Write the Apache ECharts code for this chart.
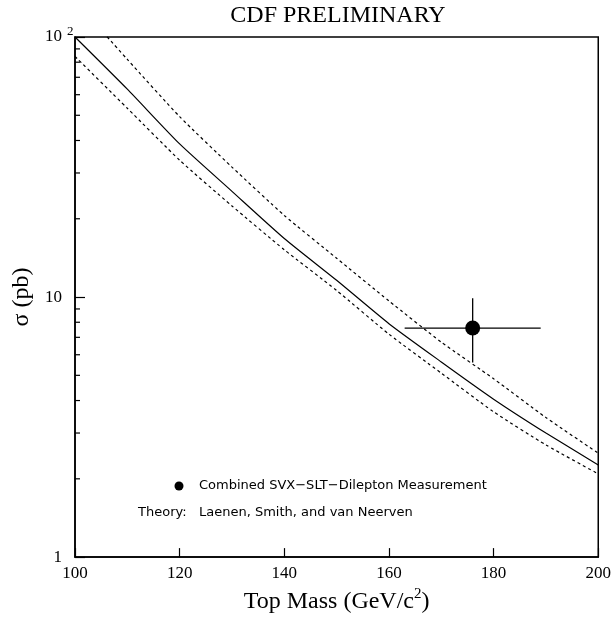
<!DOCTYPE html>
<html>
<head>
<meta charset="utf-8">
<script src="https://cdn.jsdelivr.net/npm/echarts@6/dist/echarts.min.js"></script>
<style>
html, body { margin: 0; padding: 0; background: #ffffff; }
#chart { width: 614px; height: 621px; }
</style>
</head>
<body>
<div id="chart"></div>
<script>
// Top-quark mass grid (GeV/c^2) for the theory curves
const massGrid = [100, 110, 120, 130, 140, 150, 160, 170, 180, 190, 200];
// Theory cross section (pb): central value and upper / lower bands
const theoryCentral = [100, 63.0, 38.8, 25.5, 16.8, 11.6, 7.9, 5.63, 4.05, 3.0, 2.26];
const theoryUpper = [138, 82.0, 49.4, 31.6, 20.6, 14.1, 9.66, 6.71, 4.85, 3.44, 2.51];
const theoryLower = [84.2, 53.2, 33.6, 22.4, 15.2, 10.6, 7.2, 5.1, 3.62, 2.70, 2.09];

// Combined measurement: mass, mass error, cross section and its asymmetric range
const measMass = [176];
const measMassErr = [13];
const measXsec = [7.6];
const measXsecLow = [5.6];
const measXsecHigh = [9.9];

// Axis ticks
const xTickValues = [100, 120, 140, 160, 180, 200];
const yMinorTicks = [2, 3, 4, 5, 6, 7, 8, 9, 20, 30, 40, 50, 60, 70, 80, 90];

const SERIF = "'Liberation Serif', 'Times New Roman', serif";
const SANS = "'DejaVu Sans', sans-serif";

const chart = echarts.init(document.getElementById('chart'), null, { renderer: 'canvas' });

const pair = (xs, ys) => xs.map((x, i) => [x, ys[i]]);

const option = {
  backgroundColor: '#ffffff',
  animation: false,
  grid: {
    left: 75, top: 37, right: 13, bottom: 58,
    show: true, borderColor: '#000', borderWidth: 1.5, backgroundColor: 'transparent'
  },
  xAxis: {
    type: 'value', min: 100, max: 200, interval: 20,
    axisLine: { show: true, lineStyle: { color: '#000', width: 1.5 } },
    axisTick: { show: true, inside: true, length: 9, lineStyle: { color: '#000', width: 1.2 } },
    axisLabel: { color: '#000', fontFamily: SERIF, fontSize: 17, margin: 8,
      formatter: v => xTickValues.includes(v) ? String(v) : '' },
    splitLine: { show: false },
    name: '{a|Top Mass (GeV/c}{s|2}{a|)}',
    nameLocation: 'middle', nameGap: 24,
    nameTextStyle: {
      rich: {
        a: { fontFamily: SERIF, fontSize: 24, color: '#000', lineHeight: 26 },
        s: { fontFamily: SERIF, fontSize: 15, color: '#000', lineHeight: 15, padding: [0, 0, 14, 0] }
      }
    }
  },
  yAxis: {
    type: 'log', logBase: 10, min: 1, max: 100,
    axisLine: { show: true, lineStyle: { color: '#000', width: 1.5 } },
    axisTick: { show: true, inside: true, length: 10, lineStyle: { color: '#000', width: 1.2 } },
    axisLabel: { color: '#000', fontFamily: SERIF, fontSize: 17, margin: 13,
      formatter: v => (Math.abs(v - 100) < 1e-6 ? '10' : String(Math.round(v))) },
    splitLine: { show: false },
    name: 'σ (pb)', nameLocation: 'middle', nameGap: 40,
    nameTextStyle: { fontFamily: SERIF, fontSize: 24, color: '#000' }
  },
  graphic: [
    { type: 'text', x: 338, y: 4,
      style: { text: 'CDF PRELIMINARY', font: '24px ' + SERIF, fill: '#000', align: 'center' } },
    { type: 'text', x: 67, y: 25,
      style: { text: '2', font: '13px ' + SERIF, fill: '#000' } },
    { type: 'circle', shape: { cx: 179, cy: 486, r: 4.5 }, style: { fill: '#000' } },
    { type: 'text', x: 199, y: 486,
      style: { text: 'Combined SVX−SLT−Dilepton Measurement', font: '13px ' + SANS, fill: '#000', verticalAlign: 'middle' } },
    { type: 'text', x: 138, y: 513,
      style: { text: 'Theory:', font: '13px ' + SANS, fill: '#000', verticalAlign: 'middle' } },
    { type: 'text', x: 199, y: 513,
      style: { text: 'Laenen, Smith, and van Neerven', font: '13px ' + SANS, fill: '#000', verticalAlign: 'middle' } }
  ],
  series: [
    {
      name: 'central', type: 'line', data: pair(massGrid, theoryCentral),
      showSymbol: false, smooth: 0.2, clip: true,
      lineStyle: { color: '#000', width: 1.2, type: 'solid' }
    },
    {
      name: 'upper', type: 'line', data: pair(massGrid, theoryUpper),
      showSymbol: false, smooth: 0.2, clip: true,
      lineStyle: { color: '#000', width: 1.2, type: [3, 3] }
    },
    {
      name: 'lower', type: 'line', data: pair(massGrid, theoryLower),
      showSymbol: false, smooth: 0.2, clip: true,
      lineStyle: { color: '#000', width: 1.2, type: [3, 3] }
    },
    {
      // minor ticks of the logarithmic axis
      name: 'minorTicks', type: 'custom', silent: true,
      data: yMinorTicks.map(v => [100, v]),
      renderItem: (params, api) => {
        const p = api.coord([api.value(0), api.value(1)]);
        return { type: 'line', shape: { x1: p[0], y1: p[1], x2: p[0] + 5, y2: p[1] },
          style: { stroke: '#000', lineWidth: 1.2 } };
      }
    },
    {
      // error bars of the measurement
      name: 'errors', type: 'custom', silent: true,
      data: measMass.map((m, i) => [m, measXsec[i], measMassErr[i], measXsecLow[i], measXsecHigh[i]]),
      renderItem: (params, api) => {
        const m = api.value(0), s = api.value(1), dm = api.value(2);
        const l = api.coord([m - dm, s]), r = api.coord([m + dm, s]);
        const lo = api.coord([m, api.value(3)]), hi = api.coord([m, api.value(4)]);
        const st = { stroke: '#000', lineWidth: 1.3 };
        return { type: 'group', children: [
          { type: 'line', shape: { x1: l[0], y1: l[1], x2: r[0], y2: r[1] }, style: st },
          { type: 'line', shape: { x1: lo[0], y1: lo[1], x2: hi[0], y2: hi[1] }, style: st }
        ] };
      }
    },
    {
      name: 'measurement', type: 'scatter', data: pair(measMass, measXsec),
      symbol: 'circle', symbolSize: 15, itemStyle: { color: '#000', opacity: 1 }
    }
  ]
};

chart.setOption(option);
</script>
</body>
</html>
